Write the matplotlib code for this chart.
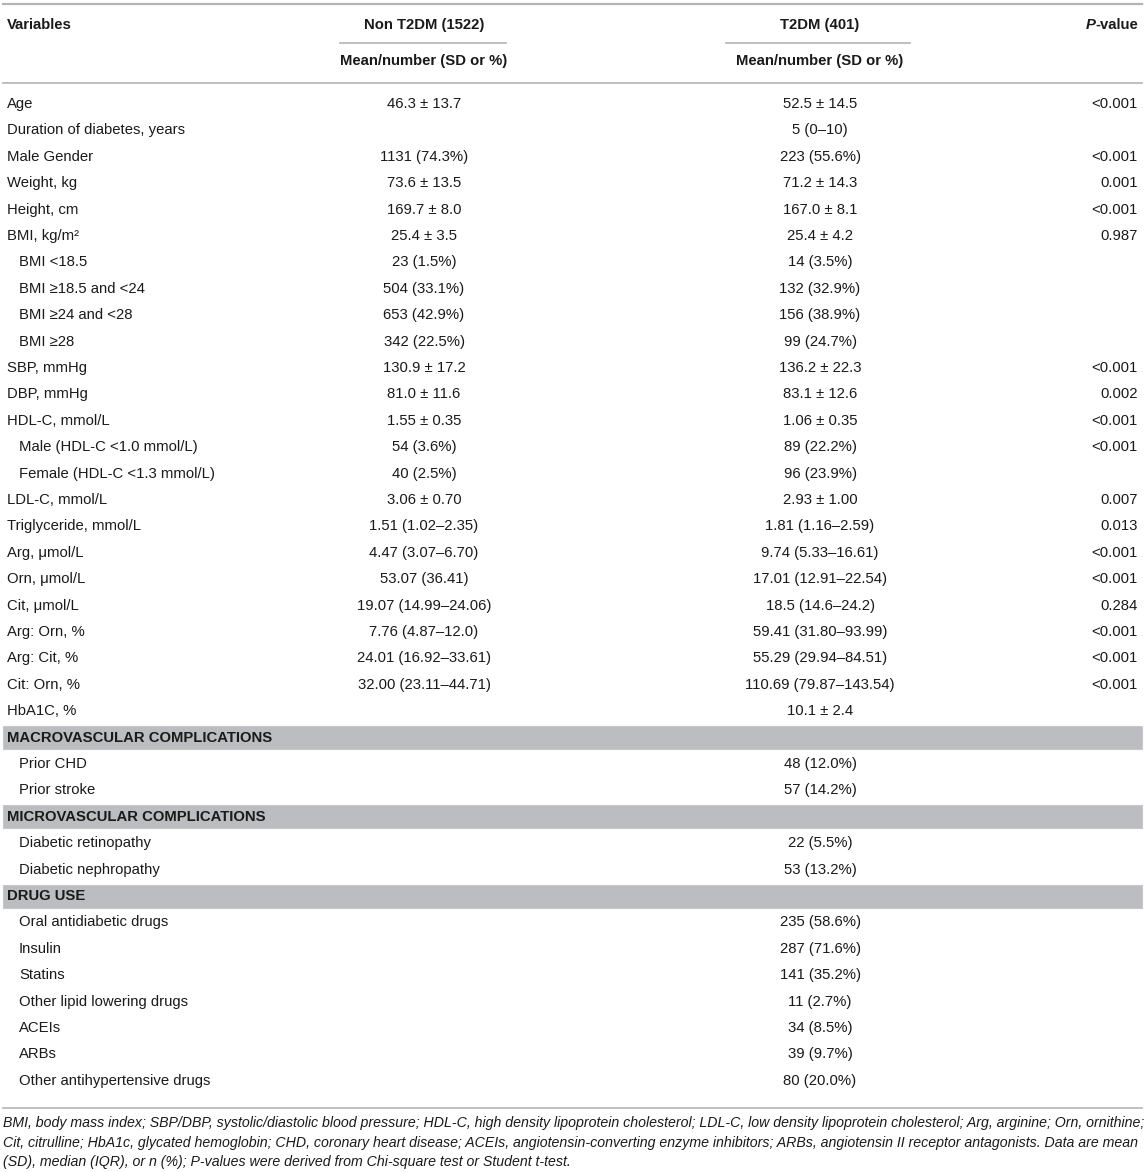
import matplotlib.pyplot as plt
from matplotlib.patches import Rectangle

plt.rcParams['font.family'] = ['Liberation Sans', 'DejaVu Sans']

# table contents (row label, non-T2DM, T2DM, p-value); indent flag 1 = sub-row
variables = [
    "Age", "Duration of diabetes, years", "Male Gender", "Weight, kg", "Height, cm",
    "BMI, kg/m²", "BMI <18.5", "BMI ≥18.5 and <24", "BMI ≥24 and <28", "BMI ≥28",
    "SBP, mmHg", "DBP, mmHg", "HDL-C, mmol/L", "Male (HDL-C <1.0 mmol/L)",
    "Female (HDL-C <1.3 mmol/L)", "LDL-C, mmol/L", "Triglyceride, mmol/L",
    "Arg, μmol/L", "Orn, μmol/L", "Cit, μmol/L", "Arg: Orn, %", "Arg: Cit, %",
    "Cit: Orn, %", "HbA1C, %",
    "MACROVASCULAR COMPLICATIONS", "Prior CHD", "Prior stroke",
    "MICROVASCULAR COMPLICATIONS", "Diabetic retinopathy", "Diabetic nephropathy",
    "DRUG USE", "Oral antidiabetic drugs", "Insulin", "Statins",
    "Other lipid lowering drugs", "ACEIs", "ARBs", "Other antihypertensive drugs",
]
indent = [0, 0, 0, 0, 0, 0, 1, 1, 1, 1, 0, 0, 0, 1, 1, 0, 0, 0, 0, 0, 0, 0, 0, 0,
          0, 1, 1, 0, 1, 1, 0, 1, 1, 1, 1, 1, 1, 1]
sections = ["MACROVASCULAR COMPLICATIONS", "MICROVASCULAR COMPLICATIONS", "DRUG USE"]

non_t2dm = [
    "46.3 ± 13.7", "", "1131 (74.3%)", "73.6 ± 13.5", "169.7 ± 8.0", "25.4 ± 3.5",
    "23 (1.5%)", "504 (33.1%)", "653 (42.9%)", "342 (22.5%)", "130.9 ± 17.2",
    "81.0 ± 11.6", "1.55 ± 0.35", "54 (3.6%)", "40 (2.5%)", "3.06 ± 0.70",
    "1.51 (1.02–2.35)", "4.47 (3.07–6.70)", "53.07 (36.41)", "19.07 (14.99–24.06)",
    "7.76 (4.87–12.0)", "24.01 (16.92–33.61)", "32.00 (23.11–44.71)", "",
    "", "", "", "", "", "", "", "", "", "", "", "", "", "",
]
t2dm = [
    "52.5 ± 14.5", "5 (0–10)", "223 (55.6%)", "71.2 ± 14.3", "167.0 ± 8.1", "25.4 ± 4.2",
    "14 (3.5%)", "132 (32.9%)", "156 (38.9%)", "99 (24.7%)", "136.2 ± 22.3",
    "83.1 ± 12.6", "1.06 ± 0.35", "89 (22.2%)", "96 (23.9%)", "2.93 ± 1.00",
    "1.81 (1.16–2.59)", "9.74 (5.33–16.61)", "17.01 (12.91–22.54)", "18.5 (14.6–24.2)",
    "59.41 (31.80–93.99)", "55.29 (29.94–84.51)", "110.69 (79.87–143.54)", "10.1 ± 2.4",
    "", "48 (12.0%)", "57 (14.2%)", "", "22 (5.5%)", "53 (13.2%)",
    "", "235 (58.6%)", "287 (71.6%)", "141 (35.2%)", "11 (2.7%)", "34 (8.5%)",
    "39 (9.7%)", "80 (20.0%)",
]
p_values = [
    "<0.001", "", "<0.001", "0.001", "<0.001", "0.987", "", "", "", "",
    "<0.001", "0.002", "<0.001", "<0.001", "", "0.007", "0.013", "<0.001",
    "<0.001", "0.284", "<0.001", "<0.001", "<0.001", "",
    "", "", "", "", "", "", "", "", "", "", "", "", "", "",
]

footnote = [
    "BMI, body mass index; SBP/DBP, systolic/diastolic blood pressure; HDL-C, high density lipoprotein cholesterol; LDL-C, low density lipoprotein cholesterol; Arg, arginine; Orn, ornithine;",
    "Cit, citrulline; HbA1c, glycated hemoglobin; CHD, coronary heart disease; ACEIs, angiotensin-converting enzyme inhibitors; ARBs, angiotensin II receptor antagonists. Data are mean",
    "(SD), median (IQR), or n (%); P-values were derived from Chi-square test or Student t-test.",
]

W, H = 1145, 1172
fig = plt.figure(figsize=(W / 100, H / 100), dpi=100)
ax = fig.add_axes([0, 0, 1, 1])
ax.set_xlim(0, W)
ax.set_ylim(H, 0)
ax.axis("off")

fs = 10.7
txt = "#1a1a1a"
line_c = "#b4b4b4"
x_left, x_right = 3, 1142
x_non, x_t2 = 424, 820
x_p = 1138

# header
ax.plot([x_left, x_right], [4, 4], color=line_c, lw=1.6)
ax.text(7, 25, "Variables", fontsize=fs, fontweight="bold", color=txt, va="center")
ax.text(x_non, 25, "Non T2DM (1522)", fontsize=fs, fontweight="bold", color=txt,
        va="center", ha="center")
ax.text(x_t2, 25, "T2DM (401)", fontsize=fs, fontweight="bold", color=txt,
        va="center", ha="center")

# "P-value": italic P then bold "-value", right aligned
pv = ax.text(x_p, 25, "-value", fontsize=fs, fontweight="bold", color=txt,
             va="center", ha="right")
fig.canvas.draw()
bb = pv.get_window_extent()
x_pv_left = ax.transData.inverted().transform((bb.x0, bb.y0))[0]
ax.text(x_pv_left, 25, "P", fontsize=fs, fontweight="bold", style="italic", color=txt,
        va="center", ha="right")

ax.plot([340, 506], [43, 43], color=line_c, lw=1.2)
ax.plot([726, 910], [43, 43], color=line_c, lw=1.2)
ax.text(x_non, 61, "Mean/number (SD or %)", fontsize=fs, fontweight="bold", color=txt,
        va="center", ha="center")
ax.text(x_t2, 61, "Mean/number (SD or %)", fontsize=fs, fontweight="bold", color=txt,
        va="center", ha="center")
ax.plot([x_left, x_right], [83, 83], color=line_c, lw=1.2)

y0, dy = 104, 26.4
for i, name in enumerate(variables):
    y = y0 + i * dy
    if name in sections:
        ax.add_patch(Rectangle((x_left, y - 11.5), x_right - x_left, 23,
                               facecolor="#bcbdc0", edgecolor="#c8c8ca", lw=0.8))
        ax.text(7, y, name, fontsize=fs, fontweight="bold", color=txt, va="center")
        continue
    ax.text(7 + 12 * indent[i], y, name, fontsize=fs, color=txt, va="center")
    ax.text(x_non, y, non_t2dm[i], fontsize=fs, color=txt, va="center", ha="center")
    ax.text(x_t2, y, t2dm[i], fontsize=fs, color=txt, va="center", ha="center")
    ax.text(x_p, y, p_values[i], fontsize=fs, color=txt, va="center", ha="right")

ax.plot([x_left, x_right], [1108, 1108], color=line_c, lw=1.2)
for k, line in enumerate(footnote):
    ax.text(3, 1123 + k * 19.5, line, fontsize=10.15, style="italic", color=txt, va="center")

fig.savefig("out.png", dpi=100)
